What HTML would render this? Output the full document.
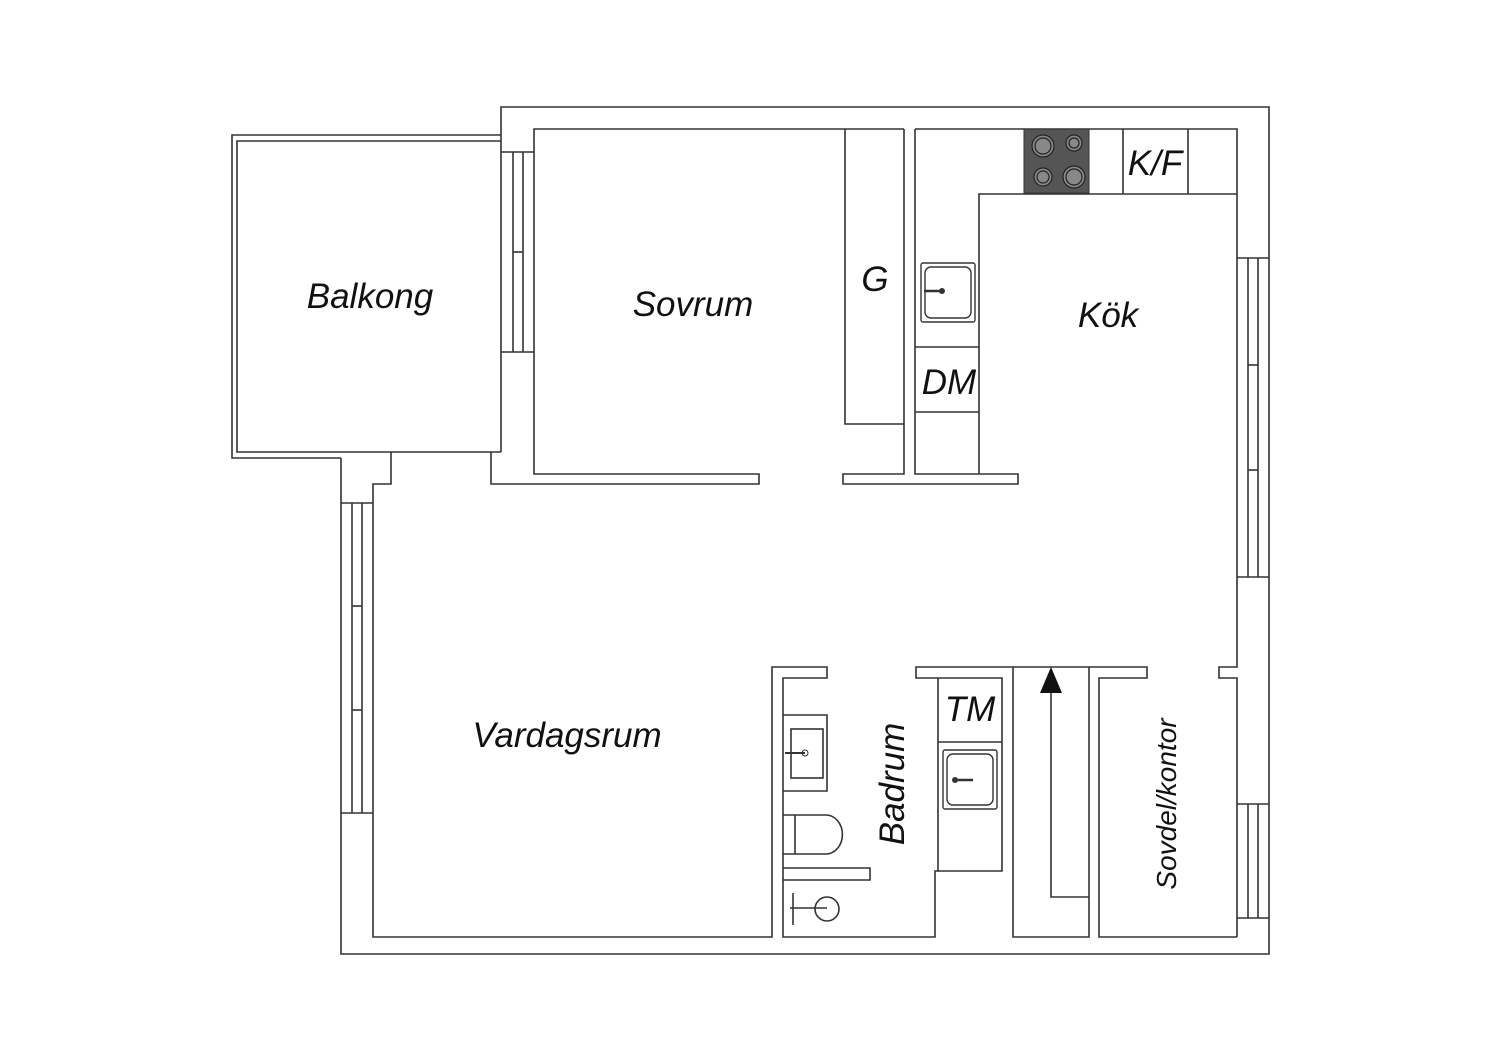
<!DOCTYPE html>
<html><head><meta charset="utf-8"><style>
html,body{margin:0;padding:0;background:#fff;}
svg{display:block}
text{font-family:"Liberation Sans",sans-serif;font-style:italic;fill:#111;}
</style></head><body>
<svg width="1500" height="1060" viewBox="0 0 1500 1060" xmlns="http://www.w3.org/2000/svg">
<rect width="1500" height="1060" fill="#fff"/>
<g fill="none" stroke="#333" stroke-width="1.6">
<polyline points="501,452 501,107 1269,107 1269,954 341,954 341,458"/>
<polyline points="501,135 232,135 232,458 341,458"/>
<polyline points="501,141 237,141 237,452 501,452"/>
<line x1="501" y1="152" x2="534" y2="152"/><line x1="501" y1="352" x2="534" y2="352"/>
<line x1="513" y1="152" x2="513" y2="352"/><line x1="523" y1="152" x2="523" y2="352"/>
<line x1="513" y1="252" x2="523" y2="252"/>
<polyline points="904,129 534,129 534,474 759,474 759,484 491,484 491,452"/>
<polyline points="845,129 845,424 904,424"/>
<polyline points="904,129 904,474 843,474 843,484 1018,484 1018,474 915,474 915,129"/>
<polyline points="915,129 1237,129 1237,258"/>
<polyline points="979,474 979,194 1237,194"/>
<line x1="915" y1="347" x2="979" y2="347"/><line x1="915" y1="412" x2="979" y2="412"/>
<line x1="1123" y1="129" x2="1123" y2="194"/><line x1="1188" y1="129" x2="1188" y2="194"/>
<polyline points="1237,258 1269,258"/>
<line x1="1237" y1="258" x2="1237" y2="577"/><line x1="1237" y1="577" x2="1269" y2="577"/>
<line x1="1248" y1="258" x2="1248" y2="577"/><line x1="1258" y1="258" x2="1258" y2="577"/>
<line x1="1248" y1="365" x2="1258" y2="365"/><line x1="1248" y1="470" x2="1258" y2="470"/>
<polyline points="1237,577 1237,667 1219,667 1219,678 1237,678 1237,937"/>
<line x1="1237" y1="804" x2="1269" y2="804"/><line x1="1237" y1="918" x2="1269" y2="918"/>
<line x1="1248" y1="804" x2="1248" y2="918"/><line x1="1258" y1="804" x2="1258" y2="918"/>
<polyline points="391,452 391,484 373,484 373,937 772,937 772,667 827,667 827,678 783,678 783,937 935,937 935,871 938,871 938,678 916,678 916,667 1147,667 1147,678 1099,678 1099,937 1237,937"/>
<line x1="341" y1="503" x2="373" y2="503"/><line x1="341" y1="813" x2="373" y2="813"/>
<line x1="352" y1="503" x2="352" y2="813"/><line x1="362" y1="503" x2="362" y2="813"/>
<line x1="352" y1="606" x2="362" y2="606"/><line x1="352" y1="710" x2="362" y2="710"/>
<polyline points="938,678 1002,678 1002,871 938,871"/>
<line x1="938" y1="742" x2="1002" y2="742"/>
<polyline points="1013,667 1013,937 1089,937 1089,667"/>
<polyline points="1051,693 1051,897 1089,897"/>
<polyline points="783,715 827,715 827,791 783,791"/>
<rect x="791" y="729" width="32" height="49"/>
<path d="M783,815 L826,815 A16,19 0 0 1 826,854 L783,854"/>
<line x1="795" y1="815" x2="795" y2="854"/>
<polyline points="783,868 870,868 870,880 783,880"/>
<circle cx="827" cy="909" r="12"/>
<line x1="790" y1="908" x2="827" y2="908"/>
<line x1="793" y1="893" x2="793" y2="925"/>
</g>
<g fill="none" stroke="#333" stroke-width="1.4">
<rect x="921" y="263" width="54" height="59" rx="2"/>
<rect x="925" y="267" width="46" height="51" rx="6"/>
<rect x="943" y="750" width="54" height="59" rx="2"/>
<rect x="947" y="754" width="46" height="51" rx="6"/>
<line x1="924" y1="291" x2="942" y2="291" stroke-width="2.5"/>
<line x1="973" y1="780" x2="955" y2="780" stroke-width="2.5"/>
<line x1="785" y1="753" x2="805" y2="753" stroke-width="2"/>
</g>
<circle cx="942" cy="291" r="3" fill="#333"/>
<circle cx="955" cy="780" r="3" fill="#333"/>
<circle cx="805" cy="753" r="3" fill="none" stroke="#333"/>
<polygon points="1051,667 1040,693 1062,693" fill="#111"/>
<rect x="1024" y="129" width="65" height="64" fill="#555" stroke="#333"/>
<g stroke="#222" stroke-width="1.2" fill="#888">
<circle cx="1043" cy="146" r="11"/><circle cx="1043" cy="146" r="8"/>
<circle cx="1074" cy="143" r="8"/><circle cx="1074" cy="143" r="5"/>
<circle cx="1043" cy="177" r="9"/><circle cx="1043" cy="177" r="6"/>
<circle cx="1074" cy="177" r="11"/><circle cx="1074" cy="177" r="8"/>
</g>
<g font-size="35" text-anchor="middle">
<text x="370" y="308">Balkong</text>
<text x="693" y="316">Sovrum</text>
<text x="875" y="291">G</text>
<text x="1108" y="327">Kök</text>
<text x="949" y="394">DM</text>
<text x="1155" y="175">K/F</text>
<text x="567" y="747">Vardagsrum</text>
<text x="970" y="721">TM</text>
<text transform="translate(904,784) rotate(-90)">Badrum</text>
<text transform="translate(1176,804) rotate(-90)" font-size="28">Sovdel/kontor</text>
</g>
</svg>
</body></html>
